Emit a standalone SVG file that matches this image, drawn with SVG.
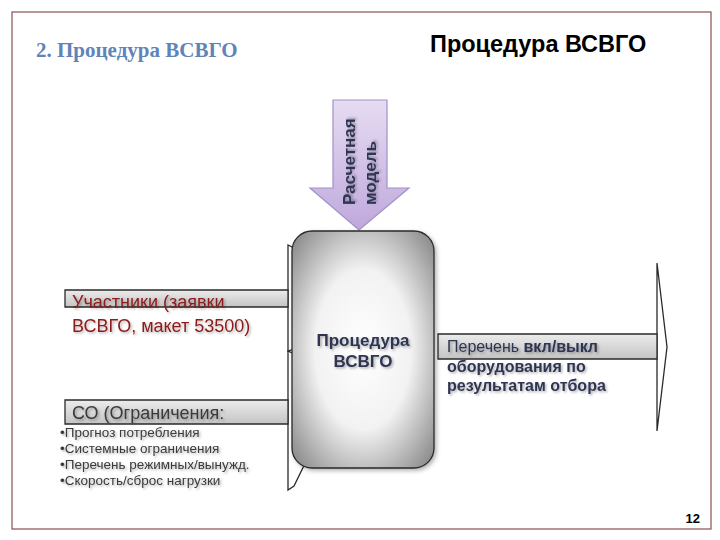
<svg xmlns="http://www.w3.org/2000/svg" width="720" height="540" viewBox="0 0 720 540">
<defs>
<linearGradient id="gShaft" x1="0" y1="0" x2="0" y2="1">
<stop offset="0" stop-color="#ececec"/><stop offset="1" stop-color="#c4c4c4"/>
</linearGradient>
<linearGradient id="gPurple" x1="0" y1="0" x2="0" y2="1">
<stop offset="0" stop-color="#e6dcf2"/><stop offset="1" stop-color="#bfa8dc"/>
</linearGradient>
<radialGradient id="gBox" cx="0.5" cy="0.5" r="0.75">
<stop offset="0" stop-color="#ffffff"/><stop offset="0.45" stop-color="#f2f2f2"/><stop offset="1" stop-color="#727272"/>
</radialGradient>
<filter id="sh" x="-10%" y="-10%" width="130%" height="140%">
<feDropShadow dx="1.5" dy="1.5" stdDeviation="1" flood-color="#000" flood-opacity="0.3"/>
</filter>
<filter id="bsh" x="-10%" y="-10%" width="130%" height="130%">
<feDropShadow dx="2" dy="2" stdDeviation="2" flood-color="#000" flood-opacity="0.3"/>
</filter>
</defs>
<style>
.sans{font-family:"Liberation Sans",Arial,sans-serif}
.arrow{fill:url(#gShaft);stroke:#2a2a2a;stroke-width:1.3}
.head{fill:#ffffff;stroke:#2a2a2a;stroke-width:1.3}
.dark{fill:#2f3552;font-weight:bold}
</style>
<rect x="12" y="12" width="699" height="517" fill="#ffffff" stroke="#8b5050" stroke-width="1.2"/>
<g id="titles">
<text x="36" y="57" font-family="'Liberation Serif','Times New Roman',serif" font-weight="bold" font-size="21" fill="#5f84ba">2. Процедура ВСВГО</text>
<text x="430" y="52" class="sans" font-weight="bold" font-size="23.5" fill="#000">Процедура ВСВГО</text>
</g>
<g id="connectors">
<g id="arrow-participants">
<polygon class="head" points="288,290 288,245 294,248 330,298 294,349 288,351 288,307"/>
<polygon class="arrow" points="65,290 288,290 288,307 65,307"/>
</g>
<g id="arrow-so">
<polygon class="head" points="288,400 288,351 294,354 330,412 294,486 288,490 288,424"/>
<polygon class="arrow" points="65,400 288,400 288,424 65,424"/>
</g>
<g id="arrow-out">
<polygon class="head" points="657,334 657,263 667,347 657,431 657,359"/>
<polygon class="arrow" points="438,334 657,334 657,359 438,359"/>
</g>
<g id="arrow-model">
<polygon points="333,100 387,100 387,188 409,188 359,230 310,188 333,188" fill="url(#gPurple)" stroke="#a092c8" stroke-width="1.2"/>
<text transform="translate(355,205) rotate(-90)" class="sans dark" font-size="17" fill="#3b3b58" filter="url(#sh)">Расчетная</text>
<text transform="translate(376,205) rotate(-90)" class="sans dark" font-size="17" fill="#3b3b58" filter="url(#sh)">модель</text>
</g>
</g>
<g id="node-procedure">
<rect x="292" y="231" width="142" height="237" rx="20" ry="20" fill="url(#gBox)" stroke="#2a2a2a" stroke-width="1.3" filter="url(#bsh)"/>
<text x="363" y="346" text-anchor="middle" class="sans dark" font-size="17" filter="url(#sh)">Процедура</text>
<text x="363" y="367" text-anchor="middle" class="sans dark" font-size="17" filter="url(#sh)">ВСВГО</text>
</g>
<g id="node-participants" class="sans" font-size="18" fill="#8b1a1a" filter="url(#sh)">
<text x="72" y="308">Участники (заявки</text>
<text x="72" y="332">ВСВГО, макет 53500)</text>
</g>
<g id="node-so" class="sans" fill="#3a3a3a" filter="url(#sh)">
<text x="72" y="419" font-size="18">СО (Ограничения:</text>
<text x="60" y="437" font-size="13.5">•Прогноз потребления</text>
<text x="60" y="453" font-size="13.5">•Системные ограничения</text>
<text x="60" y="469" font-size="13.5">•Перечень режимных/вынужд.</text>
<text x="60" y="485" font-size="13.5">•Скорость/сброс нагрузки</text>
</g>
<g id="node-output" class="sans" font-size="16" fill="#2f3552" filter="url(#sh)">
<text x="447" y="352">Перечень <tspan font-weight="bold">вкл/выкл</tspan></text>
<text x="447" y="372" font-weight="bold">оборудования по</text>
<text x="447" y="391" font-weight="bold">результатам отбора</text>
</g>
<text x="700" y="523" text-anchor="end" class="sans" font-weight="bold" font-size="13" fill="#000">12</text>
</svg>
